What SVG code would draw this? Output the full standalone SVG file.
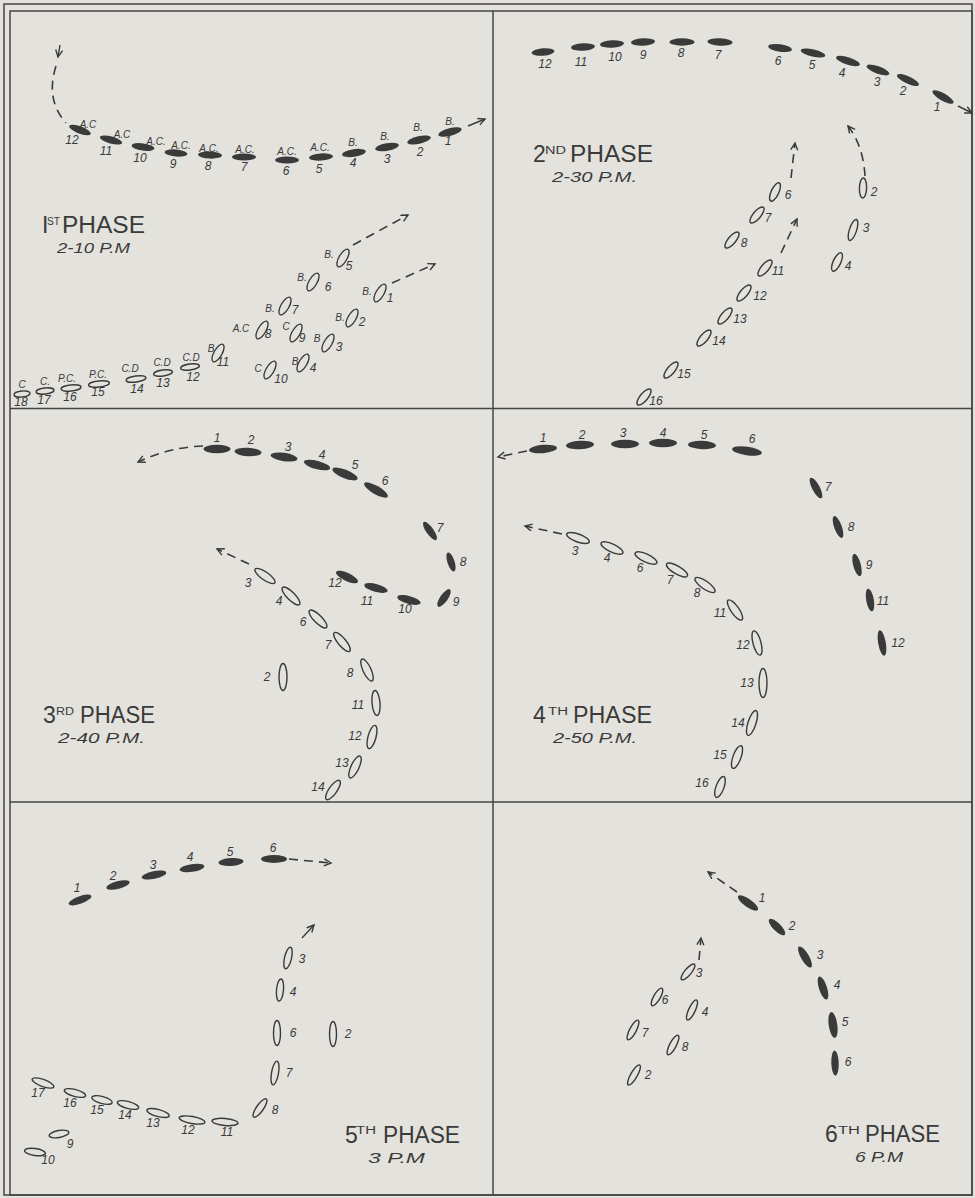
<svg xmlns="http://www.w3.org/2000/svg" width="975" height="1198" viewBox="0 0 975 1198">
<style>
.f{fill:#3a3a3a}
.o{fill:none;stroke:#3a3a3a;stroke-width:1.4}
.n{font-family:"Liberation Sans",Arial,sans-serif;font-style:italic;font-size:12px;fill:#3a3a3a;text-anchor:middle}
.s{font-size:10px}
.h{font-family:"Liberation Sans",Arial,sans-serif;font-size:23px;fill:#3a3a3a}
.u{font-size:10px}
.t{font-family:"Liberation Sans",Arial,sans-serif;font-style:italic;font-size:15px;fill:#3a3a3a}
.d{fill:none;stroke:#3a3a3a;stroke-width:1.6;stroke-dasharray:9 6}
.a{fill:none;stroke:#3a3a3a;stroke-width:1.4}
.fr{fill:none;stroke:#444;stroke-width:1.5}
</style>
<defs>
<marker id="ah" markerWidth="12" markerHeight="12" refX="8" refY="4" orient="auto" markerUnits="userSpaceOnUse">
<path d="M1,0.5 L8,4 L1,7.5" fill="none" stroke="#3a3a3a" stroke-width="1.4"/>
</marker>
</defs>
<rect width="975" height="1198" fill="#e4e2dc"/>
<g id="frame">
<rect class="fr" x="4" y="4" width="968" height="1191"/>
<rect class="fr" x="10" y="11" width="962" height="1184"/>
<line class="fr" x1="493" y1="11" x2="493" y2="1195"/>
<line class="fr" x1="10" y1="408.5" x2="972" y2="408.5"/>
<line class="fr" x1="10" y1="802" x2="972" y2="802"/>
</g>

<g id="connectors">
<line class="a" x1="60" y1="45" x2="58" y2="57" marker-end="url(#ah)"/>
<path class="d" d="M56,66 C50,85 50,105 66,123"/>
<line class="a" x1="468" y1="126" x2="485" y2="119" marker-end="url(#ah)"/>
<path class="d" d="M353,245 L408,215" marker-end="url(#ah)"/>
<path class="d" d="M392,283 L435,264" marker-end="url(#ah)"/>
<line class="a" x1="958" y1="106" x2="972" y2="113" marker-end="url(#ah)"/>
<path class="d" d="M791,178 L795,143" marker-end="url(#ah)"/>
<path class="d" d="M865,176 C864,158 859,140 848,126" marker-end="url(#ah)"/>
<path class="d" d="M781,253 L797,219" marker-end="url(#ah)"/>
<path class="d" d="M203,446 Q170,447 138,462" marker-end="url(#ah)"/>
<path class="d" d="M249,564 L217,549" marker-end="url(#ah)"/>
<path class="d" d="M527,451 L498,457" marker-end="url(#ah)"/>
<path class="d" d="M562,534 L525,526" marker-end="url(#ah)"/>
<path class="d" d="M289,859 L331,863" marker-end="url(#ah)"/>
<line class="a" x1="302" y1="938" x2="314" y2="925" marker-end="url(#ah)"/>
<path class="d" d="M737,892 L708,872" marker-end="url(#ah)"/>
<path class="d" d="M699,960 L701,938" marker-end="url(#ah)"/>
</g>

<g id="phase1">
<g id="p1-line">
<ellipse class="f" rx="11.5" ry="3.6" transform="translate(80 130) rotate(20)"/>
<ellipse class="f" rx="11.5" ry="3.6" transform="translate(111 140) rotate(15)"/>
<ellipse class="f" rx="11.5" ry="3.6" transform="translate(143 147) rotate(8)"/>
<ellipse class="f" rx="11.5" ry="3.6" transform="translate(176 153) rotate(5)"/>
<ellipse class="f" rx="12" ry="3.6" transform="translate(210 155) rotate(2)"/>
<ellipse class="f" rx="12" ry="3.6" transform="translate(244 157)"/>
<ellipse class="f" rx="12" ry="3.6" transform="translate(287 160)"/>
<ellipse class="f" rx="12" ry="3.6" transform="translate(321 157) rotate(-3)"/>
<ellipse class="f" rx="12" ry="3.8" transform="translate(354 153) rotate(-8)"/>
<ellipse class="f" rx="12" ry="3.8" transform="translate(387 147) rotate(-10)"/>
<ellipse class="f" rx="12" ry="3.8" transform="translate(419 140) rotate(-12)"/>
<ellipse class="f" rx="12" ry="3.8" transform="translate(450 132) rotate(-15)"/>
<text class="n s" x="88" y="128">A.C</text><text class="n" x="72" y="144">12</text>
<text class="n s" x="122" y="138">A.C</text><text class="n" x="106" y="155">11</text>
<text class="n s" x="156" y="145">A.C.</text><text class="n" x="140" y="162">10</text>
<text class="n s" x="181" y="149">A.C.</text><text class="n" x="173" y="168">9</text>
<text class="n s" x="209" y="152">A.C.</text><text class="n" x="208" y="170">8</text>
<text class="n s" x="245" y="153">A.C.</text><text class="n" x="244" y="171">7</text>
<text class="n s" x="287" y="155">A.C.</text><text class="n" x="286" y="175">6</text>
<text class="n s" x="320" y="151">A.C.</text><text class="n" x="319" y="173">5</text>
<text class="n s" x="353" y="146">B.</text><text class="n" x="353" y="167">4</text>
<text class="n s" x="385" y="140">B.</text><text class="n" x="387" y="163">3</text>
<text class="n s" x="418" y="131">B.</text><text class="n" x="420" y="156">2</text>
<text class="n s" x="450" y="125">B.</text><text class="n" x="448" y="145">1</text>
</g>
<g id="p1-group">
<ellipse class="o" rx="10" ry="4" transform="translate(343 258) rotate(-60)"/>
<ellipse class="o" rx="10" ry="4" transform="translate(313 282) rotate(-60)"/>
<ellipse class="o" rx="10" ry="4" transform="translate(285 306) rotate(-60)"/>
<ellipse class="o" rx="10" ry="4" transform="translate(262 330) rotate(-60)"/>
<ellipse class="o" rx="10" ry="4" transform="translate(296 333) rotate(-60)"/>
<ellipse class="o" rx="10" ry="4" transform="translate(328 343) rotate(-60)"/>
<ellipse class="o" rx="10" ry="4" transform="translate(352 318) rotate(-60)"/>
<ellipse class="o" rx="10" ry="4" transform="translate(380 293) rotate(-60)"/>
<ellipse class="o" rx="10" ry="4" transform="translate(218 353) rotate(-60)"/>
<ellipse class="o" rx="10" ry="4" transform="translate(270 370) rotate(-60)"/>
<ellipse class="o" rx="10" ry="4" transform="translate(303 363) rotate(-60)"/>
<text class="n s" x="329" y="258">B.</text><text class="n" x="349" y="270">5</text>
<text class="n s" x="302" y="281">B.</text><text class="n" x="328" y="291">6</text>
<text class="n s" x="270" y="312">B.</text><text class="n" x="295" y="314">7</text>
<text class="n s" x="241" y="332">A.C</text><text class="n" x="268" y="338">8</text>
<text class="n s" x="286" y="330">C</text><text class="n" x="302" y="342">9</text>
<text class="n s" x="317" y="342">B</text><text class="n" x="339" y="351">3</text>
<text class="n s" x="340" y="321">B.</text><text class="n" x="362" y="326">2</text>
<text class="n s" x="367" y="295">B.</text><text class="n" x="390" y="302">1</text>
<text class="n s" x="211" y="352">B</text><text class="n" x="223" y="366">11</text>
<text class="n s" x="258" y="372">C</text><text class="n" x="281" y="383">10</text>
<text class="n s" x="295" y="365">B</text><text class="n" x="313" y="372">4</text>
</g>
<g id="p1-rear">
<ellipse class="o" rx="9.5" ry="3" transform="translate(190 367) rotate(-8)"/>
<ellipse class="o" rx="9.5" ry="3" transform="translate(163 373) rotate(-8)"/>
<ellipse class="o" rx="10" ry="3" transform="translate(136 379) rotate(-8)"/>
<ellipse class="o" rx="10.5" ry="3" transform="translate(99 384) rotate(-6)"/>
<ellipse class="o" rx="10" ry="3" transform="translate(71 388) rotate(-6)"/>
<ellipse class="o" rx="9" ry="3" transform="translate(45 391) rotate(-6)"/>
<ellipse class="o" rx="8" ry="3" transform="translate(22 394) rotate(-6)"/>
<text class="n s" x="191" y="361">C.D</text><text class="n" x="193" y="381">12</text>
<text class="n s" x="162" y="366">C.D</text><text class="n" x="163" y="387">13</text>
<text class="n s" x="130" y="372">C.D</text><text class="n" x="137" y="393">14</text>
<text class="n s" x="98" y="378">P.C.</text><text class="n" x="98" y="396">15</text>
<text class="n s" x="67" y="382">P.C.</text><text class="n" x="70" y="401">16</text>
<text class="n s" x="45" y="385">C.</text><text class="n" x="44" y="404">17</text>
<text class="n s" x="22" y="388">C</text><text class="n" x="21" y="406">18</text>
</g>
<g id="p1-title">
<text class="h" x="42" y="233">I</text>
<text class="h u" x="47" y="225" textLength="13" lengthAdjust="spacingAndGlyphs">ST</text>
<text class="h" x="62" y="233" textLength="83" lengthAdjust="spacingAndGlyphs">PHASE</text>
<text class="t" x="57" y="253" textLength="73" lengthAdjust="spacingAndGlyphs">2-10 P.M</text>
</g>
</g>

<g id="phase2">
<g id="p2-line">
<ellipse class="f" rx="11.5" ry="3.7" transform="translate(543 52) rotate(-5)"/>
<ellipse class="f" rx="12" ry="3.7" transform="translate(583 47) rotate(-3)"/>
<ellipse class="f" rx="12" ry="3.7" transform="translate(612 44) rotate(-3)"/>
<ellipse class="f" rx="12" ry="3.7" transform="translate(643 42) rotate(-2)"/>
<ellipse class="f" rx="12.5" ry="3.7" transform="translate(682 42)"/>
<ellipse class="f" rx="12.5" ry="3.7" transform="translate(720 42) rotate(2)"/>
<ellipse class="f" rx="12" ry="3.7" transform="translate(780 48) rotate(8)"/>
<ellipse class="f" rx="12.5" ry="3.7" transform="translate(813 53) rotate(13)"/>
<ellipse class="f" rx="12.5" ry="3.7" transform="translate(848 61) rotate(18)"/>
<ellipse class="f" rx="12" ry="3.7" transform="translate(878 70) rotate(20)"/>
<ellipse class="f" rx="12" ry="3.7" transform="translate(908 80) rotate(25)"/>
<ellipse class="f" rx="12" ry="3.7" transform="translate(943 97) rotate(30)"/>
<text class="n" x="545" y="68">12</text>
<text class="n" x="581" y="66">11</text>
<text class="n" x="615" y="61">10</text>
<text class="n" x="643" y="59">9</text>
<text class="n" x="681" y="57">8</text>
<text class="n" x="718" y="59">7</text>
<text class="n" x="778" y="65">6</text>
<text class="n" x="812" y="69">5</text>
<text class="n" x="842" y="77">4</text>
<text class="n" x="877" y="86">3</text>
<text class="n" x="903" y="95">2</text>
<text class="n" x="937" y="111">1</text>
</g>
<g id="p2-group">
<ellipse class="o" rx="10" ry="3.8" transform="translate(775 192) rotate(-65)"/>
<ellipse class="o" rx="10" ry="3.6" transform="translate(863 188) rotate(-88)"/>
<ellipse class="o" rx="10" ry="3.8" transform="translate(757 215) rotate(-50)"/>
<ellipse class="o" rx="10" ry="3.8" transform="translate(732 240) rotate(-50)"/>
<ellipse class="o" rx="10" ry="3.8" transform="translate(765 268) rotate(-50)"/>
<ellipse class="o" rx="10" ry="3.8" transform="translate(744 293) rotate(-50)"/>
<ellipse class="o" rx="10" ry="3.8" transform="translate(725 316) rotate(-50)"/>
<ellipse class="o" rx="10" ry="3.8" transform="translate(704 338) rotate(-50)"/>
<ellipse class="o" rx="10" ry="3.8" transform="translate(671 370) rotate(-50)"/>
<ellipse class="o" rx="10" ry="3.8" transform="translate(644 397) rotate(-50)"/>
<ellipse class="o" rx="11" ry="3.6" transform="translate(853 230) rotate(-72)"/>
<ellipse class="o" rx="10" ry="3.8" transform="translate(837 262) rotate(-65)"/>
<text class="n" x="788" y="199">6</text>
<text class="n" x="874" y="196">2</text>
<text class="n" x="768" y="222">7</text>
<text class="n" x="744" y="247">8</text>
<text class="n" x="778" y="275">11</text>
<text class="n" x="760" y="300">12</text>
<text class="n" x="740" y="323">13</text>
<text class="n" x="719" y="345">14</text>
<text class="n" x="684" y="378">15</text>
<text class="n" x="656" y="405">16</text>
<text class="n" x="866" y="232">3</text>
<text class="n" x="848" y="270">4</text>
</g>
<g id="p2-title">
<text class="h" x="533" y="162">2</text>
<text class="h u" x="545" y="154" textLength="21" lengthAdjust="spacingAndGlyphs">ND</text>
<text class="h" x="570" y="162" textLength="83" lengthAdjust="spacingAndGlyphs">PHASE</text>
<text class="t" x="552" y="182" textLength="85" lengthAdjust="spacingAndGlyphs">2-30 P.M.</text>
</g>
</g>

<g id="phase3">
<g id="p3-line">
<ellipse class="f" rx="13.5" ry="4.2" transform="translate(217 449)"/>
<ellipse class="f" rx="13.5" ry="4.2" transform="translate(248 452) rotate(3)"/>
<ellipse class="f" rx="13.5" ry="4.2" transform="translate(284 457) rotate(8)"/>
<ellipse class="f" rx="13.5" ry="4.2" transform="translate(317 465) rotate(15)"/>
<ellipse class="f" rx="13.5" ry="4.2" transform="translate(345 474) rotate(22)"/>
<ellipse class="f" rx="13.5" ry="4.2" transform="translate(376 490) rotate(30)"/>
<ellipse class="f" rx="11" ry="3.7" transform="translate(430 531) rotate(55)"/>
<ellipse class="f" rx="10" ry="3.6" transform="translate(451 562) rotate(72)"/>
<ellipse class="f" rx="10.5" ry="3.8" transform="translate(444 598) rotate(-55)"/>
<ellipse class="f" rx="12" ry="4" transform="translate(409 600) rotate(15)"/>
<ellipse class="f" rx="12" ry="4" transform="translate(376 588) rotate(15)"/>
<ellipse class="f" rx="12" ry="4" transform="translate(347 577) rotate(25)"/>
<text class="n" x="217" y="442">1</text>
<text class="n" x="251" y="444">2</text>
<text class="n" x="288" y="451">3</text>
<text class="n" x="322" y="459">4</text>
<text class="n" x="355" y="469">5</text>
<text class="n" x="385" y="485">6</text>
<text class="n" x="440" y="532">7</text>
<text class="n" x="463" y="566">8</text>
<text class="n" x="456" y="606">9</text>
<text class="n" x="405" y="613">10</text>
<text class="n" x="367" y="605">11</text>
<text class="n" x="335" y="587">12</text>
</g>
<g id="p3-group">
<ellipse class="o" rx="12" ry="4" transform="translate(265 576) rotate(35)"/>
<ellipse class="o" rx="12" ry="4" transform="translate(291 596) rotate(45)"/>
<ellipse class="o" rx="12" ry="4" transform="translate(318 619) rotate(45)"/>
<ellipse class="o" rx="12" ry="4" transform="translate(342 642) rotate(50)"/>
<ellipse class="o" rx="12" ry="4" transform="translate(367 670) rotate(65)"/>
<ellipse class="o" rx="12.5" ry="4" transform="translate(376 703) rotate(85)"/>
<ellipse class="o" rx="12" ry="4" transform="translate(372 737) rotate(-75)"/>
<ellipse class="o" rx="12" ry="4" transform="translate(355 767) rotate(-65)"/>
<ellipse class="o" rx="11.5" ry="4" transform="translate(333 790) rotate(-55)"/>
<ellipse class="o" rx="13.5" ry="4" transform="translate(283 677) rotate(90)"/>
<text class="n" x="248" y="587">3</text>
<text class="n" x="279" y="605">4</text>
<text class="n" x="303" y="626">6</text>
<text class="n" x="328" y="649">7</text>
<text class="n" x="350" y="677">8</text>
<text class="n" x="358" y="709">11</text>
<text class="n" x="355" y="740">12</text>
<text class="n" x="342" y="767">13</text>
<text class="n" x="318" y="791">14</text>
<text class="n" x="267" y="681">2</text>
</g>
<g id="p3-title">
<text class="h" x="43" y="723">3</text>
<text class="h u" x="56" y="715" textLength="18" lengthAdjust="spacingAndGlyphs">RD</text>
<text class="h" x="80" y="723" textLength="75" lengthAdjust="spacingAndGlyphs">PHASE</text>
<text class="t" x="58" y="743" textLength="87" lengthAdjust="spacingAndGlyphs">2-40 P.M.</text>
</g>
</g>

<g id="phase4">
<g id="p4-line">
<ellipse class="f" rx="14" ry="4.2" transform="translate(543 449) rotate(-5)"/>
<ellipse class="f" rx="14" ry="4.2" transform="translate(580 445) rotate(-3)"/>
<ellipse class="f" rx="14" ry="4.2" transform="translate(625 444)"/>
<ellipse class="f" rx="14" ry="4.2" transform="translate(663 443)"/>
<ellipse class="f" rx="14" ry="4.2" transform="translate(702 445) rotate(2)"/>
<ellipse class="f" rx="15" ry="4.2" transform="translate(747 451) rotate(8)"/>
<ellipse class="f" rx="11.5" ry="3.8" transform="translate(816 488) rotate(62)"/>
<ellipse class="f" rx="11.5" ry="3.8" transform="translate(838 527) rotate(70)"/>
<ellipse class="f" rx="11.5" ry="3.8" transform="translate(857 565) rotate(75)"/>
<ellipse class="f" rx="11.5" ry="3.8" transform="translate(870 600) rotate(80)"/>
<ellipse class="f" rx="13" ry="3.8" transform="translate(882 643) rotate(80)"/>
<text class="n" x="543" y="442">1</text>
<text class="n" x="582" y="439">2</text>
<text class="n" x="623" y="437">3</text>
<text class="n" x="663" y="437">4</text>
<text class="n" x="704" y="439">5</text>
<text class="n" x="752" y="443">6</text>
<text class="n" x="828" y="491">7</text>
<text class="n" x="851" y="531">8</text>
<text class="n" x="869" y="569">9</text>
<text class="n" x="883" y="605">11</text>
<text class="n" x="898" y="647">12</text>
</g>
<g id="p4-group">
<ellipse class="o" rx="12" ry="4" transform="translate(578 538) rotate(20)"/>
<ellipse class="o" rx="12" ry="4" transform="translate(612 548) rotate(25)"/>
<ellipse class="o" rx="12" ry="4" transform="translate(646 558) rotate(25)"/>
<ellipse class="o" rx="12" ry="4" transform="translate(677 570) rotate(30)"/>
<ellipse class="o" rx="12" ry="4" transform="translate(705 585) rotate(35)"/>
<ellipse class="o" rx="12" ry="4" transform="translate(735 610) rotate(55)"/>
<ellipse class="o" rx="12.5" ry="4" transform="translate(757 643) rotate(75)"/>
<ellipse class="o" rx="14.5" ry="4" transform="translate(763 683) rotate(90)"/>
<ellipse class="o" rx="13" ry="4" transform="translate(752 723) rotate(-72)"/>
<ellipse class="o" rx="12" ry="4" transform="translate(737 757) rotate(-70)"/>
<ellipse class="o" rx="11" ry="4" transform="translate(720 787) rotate(-70)"/>
<text class="n" x="575" y="555">3</text>
<text class="n" x="607" y="562">4</text>
<text class="n" x="640" y="572">6</text>
<text class="n" x="670" y="584">7</text>
<text class="n" x="697" y="597">8</text>
<text class="n" x="720" y="617">11</text>
<text class="n" x="743" y="649">12</text>
<text class="n" x="747" y="687">13</text>
<text class="n" x="738" y="727">14</text>
<text class="n" x="720" y="759">15</text>
<text class="n" x="702" y="787">16</text>
</g>
<g id="p4-title">
<text class="h" x="533" y="723">4</text>
<text class="h u" x="548" y="715" textLength="20" lengthAdjust="spacingAndGlyphs">TH</text>
<text class="h" x="573" y="723" textLength="79" lengthAdjust="spacingAndGlyphs">PHASE</text>
<text class="t" x="553" y="743" textLength="84" lengthAdjust="spacingAndGlyphs">2-50 P.M.</text>
</g>
</g>

<g id="phase5">
<g id="p5-line">
<ellipse class="f" rx="12" ry="3.8" transform="translate(80 900) rotate(-20)"/>
<ellipse class="f" rx="12" ry="3.8" transform="translate(118 885) rotate(-15)"/>
<ellipse class="f" rx="12.5" ry="3.9" transform="translate(154 875) rotate(-12)"/>
<ellipse class="f" rx="12.5" ry="3.9" transform="translate(192 868) rotate(-8)"/>
<ellipse class="f" rx="12.5" ry="3.9" transform="translate(231 862) rotate(-4)"/>
<ellipse class="f" rx="13" ry="3.9" transform="translate(274 859)"/>
<text class="n" x="77" y="892">1</text>
<text class="n" x="113" y="880">2</text>
<text class="n" x="153" y="869">3</text>
<text class="n" x="190" y="861">4</text>
<text class="n" x="230" y="856">5</text>
<text class="n" x="273" y="852">6</text>
</g>
<g id="p5-group">
<ellipse class="o" rx="11" ry="3.5" transform="translate(288 958) rotate(-77)"/>
<ellipse class="o" rx="11" ry="3.5" transform="translate(280 990) rotate(-85)"/>
<ellipse class="o" rx="12.5" ry="3.5" transform="translate(277 1033) rotate(90)"/>
<ellipse class="o" rx="12.5" ry="3.5" transform="translate(333 1034) rotate(90)"/>
<ellipse class="o" rx="12" ry="3.5" transform="translate(275 1073) rotate(-80)"/>
<ellipse class="o" rx="11" ry="3.5" transform="translate(260 1108) rotate(-55)"/>
<ellipse class="o" rx="13" ry="3.5" transform="translate(225 1122) rotate(5)"/>
<ellipse class="o" rx="13" ry="3.5" transform="translate(192 1120) rotate(10)"/>
<ellipse class="o" rx="11.5" ry="3.5" transform="translate(158 1113) rotate(15)"/>
<ellipse class="o" rx="11" ry="3.5" transform="translate(128 1105) rotate(15)"/>
<ellipse class="o" rx="10.5" ry="3.5" transform="translate(102 1100) rotate(15)"/>
<ellipse class="o" rx="11" ry="3.5" transform="translate(75 1093) rotate(15)"/>
<ellipse class="o" rx="11.5" ry="3.5" transform="translate(43 1083) rotate(20)"/>
<ellipse class="o" rx="10" ry="3.5" transform="translate(59 1134) rotate(-10)"/>
<ellipse class="o" rx="10.5" ry="3.5" transform="translate(35 1152) rotate(8)"/>
<text class="n" x="302" y="963">3</text>
<text class="n" x="293" y="996">4</text>
<text class="n" x="293" y="1037">6</text>
<text class="n" x="348" y="1038">2</text>
<text class="n" x="289" y="1077">7</text>
<text class="n" x="275" y="1114">8</text>
<text class="n" x="227" y="1136">11</text>
<text class="n" x="188" y="1134">12</text>
<text class="n" x="153" y="1127">13</text>
<text class="n" x="125" y="1119">14</text>
<text class="n" x="97" y="1114">15</text>
<text class="n" x="70" y="1107">16</text>
<text class="n" x="38" y="1097">17</text>
<text class="n" x="70" y="1148">9</text>
<text class="n" x="48" y="1164">10</text>
</g>
<g id="p5-title">
<text class="h" x="345" y="1143">5</text>
<text class="h u" x="356" y="1134" textLength="20" lengthAdjust="spacingAndGlyphs">TH</text>
<text class="h" x="383" y="1143" textLength="77" lengthAdjust="spacingAndGlyphs">PHASE</text>
<text class="t" x="368" y="1163" textLength="57" lengthAdjust="spacingAndGlyphs">3 P.M</text>
</g>
</g>

<g id="phase6">
<g id="p6-line">
<ellipse class="f" rx="12" ry="4" transform="translate(748 903) rotate(35)"/>
<ellipse class="f" rx="11" ry="4" transform="translate(777 927) rotate(45)"/>
<ellipse class="f" rx="12" ry="4" transform="translate(805 957) rotate(60)"/>
<ellipse class="f" rx="12" ry="4" transform="translate(823 988) rotate(72)"/>
<ellipse class="f" rx="13" ry="4.3" transform="translate(833 1025) rotate(82)"/>
<ellipse class="f" rx="12.5" ry="3.7" transform="translate(835 1063) rotate(88)"/>
<text class="n" x="762" y="902">1</text>
<text class="n" x="792" y="930">2</text>
<text class="n" x="820" y="959">3</text>
<text class="n" x="837" y="989">4</text>
<text class="n" x="845" y="1026">5</text>
<text class="n" x="848" y="1066">6</text>
</g>
<g id="p6-group">
<ellipse class="o" rx="10" ry="3.3" transform="translate(688 972) rotate(-50)"/>
<ellipse class="o" rx="10" ry="3.3" transform="translate(657 997) rotate(-60)"/>
<ellipse class="o" rx="11" ry="3.3" transform="translate(692 1010) rotate(-65)"/>
<ellipse class="o" rx="11" ry="3.3" transform="translate(633 1030) rotate(-62)"/>
<ellipse class="o" rx="11" ry="3.3" transform="translate(673 1045) rotate(-62)"/>
<ellipse class="o" rx="11.5" ry="3.3" transform="translate(634 1075) rotate(-60)"/>
<text class="n" x="699" y="977">3</text>
<text class="n" x="665" y="1004">6</text>
<text class="n" x="705" y="1016">4</text>
<text class="n" x="645" y="1037">7</text>
<text class="n" x="685" y="1051">8</text>
<text class="n" x="648" y="1079">2</text>
</g>
<g id="p6-title">
<text class="h" x="825" y="1142">6</text>
<text class="h u" x="838" y="1134" textLength="22" lengthAdjust="spacingAndGlyphs">TH</text>
<text class="h" x="865" y="1142" textLength="75" lengthAdjust="spacingAndGlyphs">PHASE</text>
<text class="t" x="855" y="1162" textLength="48" lengthAdjust="spacingAndGlyphs">6 P.M</text>
</g>
</g>
</svg>
